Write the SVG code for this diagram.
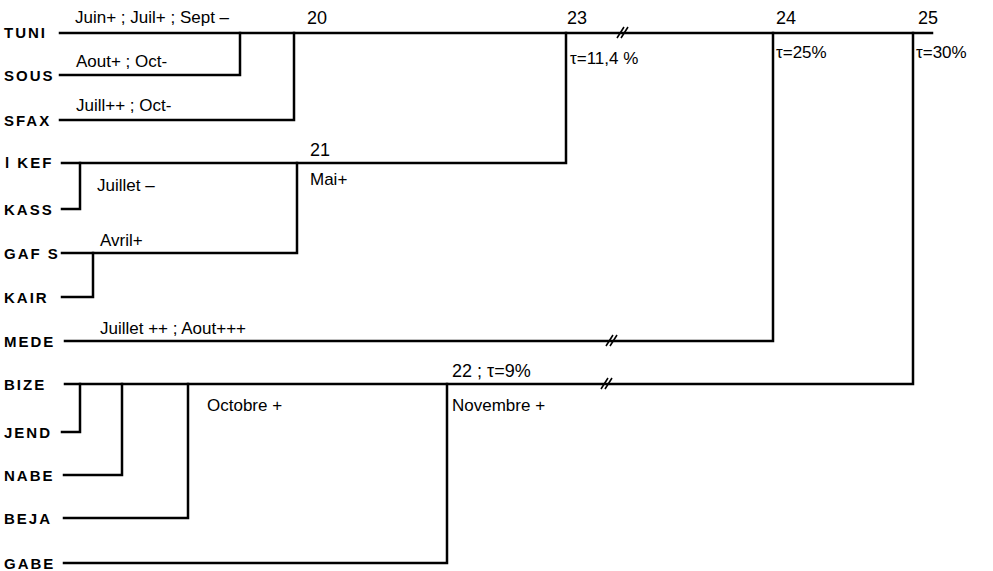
<svg xmlns="http://www.w3.org/2000/svg" width="993" height="571" viewBox="0 0 993 571">
<style>
.lbl{font-family:"Liberation Sans",Arial,sans-serif;font-weight:bold;font-size:15px;letter-spacing:2px;fill:#000}
.ann{font-family:"Liberation Sans",Arial,sans-serif;font-size:17px;fill:#000}
.num{font-family:"Liberation Sans",Arial,sans-serif;font-size:18px;fill:#000}
.ln{stroke:#000;stroke-width:2.5;fill:none;stroke-linecap:square}
.brk{stroke:#000;stroke-width:1.6;fill:none}
</style>
<rect width="993" height="571" fill="#fff"/>
<g id="connectors">
<path class="ln" d="M60 33H932"/>
<path class="ln" d="M60 75H240V33"/>
<path class="ln" d="M60 120H294V33"/>
<path class="ln" d="M62 163H566V33"/>
<path class="ln" d="M62 209H80V163"/>
<path class="ln" d="M62 253H297V163"/>
<path class="ln" d="M62 297H93V253"/>
<path class="ln" d="M65 341H773V33"/>
<path class="ln" d="M65 384H913V33"/>
<path class="ln" d="M62 432H80V384"/>
<path class="ln" d="M64 475H122V384"/>
<path class="ln" d="M64 518H188V384"/>
<path class="ln" d="M64 563H447V384"/>
<path class="brk" d="M617 38L624 27M621 38L628 27"/>
<path class="brk" d="M606 346L613 335M610 346L617 335"/>
<path class="brk" d="M601 389L608 378M605 389L612 378"/>
</g>
<g id="leaf-TUNI"><text class="lbl" x="4" y="38">TUNI</text></g>
<g id="leaf-SOUS"><text class="lbl" x="4" y="81">SOUS</text></g>
<g id="leaf-SFAX"><text class="lbl" x="4" y="126">SFAX</text></g>
<g id="leaf-KEF"><text class="lbl" x="5" y="168">l KEF</text></g>
<g id="leaf-KASS"><text class="lbl" x="4" y="215">KASS</text></g>
<g id="leaf-GAFS"><text class="lbl" x="4" y="259">GAF S</text></g>
<g id="leaf-KAIR"><text class="lbl" x="4" y="303">KAIR</text></g>
<g id="leaf-MEDE"><text class="lbl" x="4" y="347">MEDE</text></g>
<g id="leaf-BIZE"><text class="lbl" x="4" y="390">BIZE</text></g>
<g id="leaf-JEND"><text class="lbl" x="4" y="438">JEND</text></g>
<g id="leaf-NABE"><text class="lbl" x="4" y="481">NABE</text></g>
<g id="leaf-BEJA"><text class="lbl" x="4" y="524">BEJA</text></g>
<g id="leaf-GABE"><text class="lbl" x="4" y="569">GABE</text></g>
<g id="ann-TUNI"><text class="ann" x="75" y="23">Juin+ ; Juil+ ; Sept –</text></g>
<g id="ann-SOUS"><text class="ann" x="76" y="67">Aout+ ; Oct-</text></g>
<g id="ann-SFAX"><text class="ann" x="76" y="111">Juill++ ; Oct-</text></g>
<g id="node-20"><text class="num" x="307" y="24">20</text></g>
<g id="node-23"><text class="num" x="567" y="24">23</text><text class="ann" x="570" y="64">τ=11,4 %</text></g>
<g id="node-24"><text class="num" x="776" y="24">24</text><text class="ann" x="776" y="58">τ=25%</text></g>
<g id="node-25"><text class="num" x="918" y="24">25</text><text class="ann" x="916" y="58">τ=30%</text></g>
<g id="node-21"><text class="num" x="310" y="156">21</text><text class="ann" x="310" y="185">Mai+</text></g>
<g id="ann-KASS"><text class="ann" x="97" y="191">Juillet –</text></g>
<g id="ann-GAFS"><text class="ann" x="100" y="246">Avril+</text></g>
<g id="ann-MEDE"><text class="ann" x="100" y="334">Juillet ++ ; Aout+++</text></g>
<g id="node-22"><text class="num" x="452" y="377">22 ; τ=9%</text><text class="ann" x="452" y="411">Novembre +</text></g>
<g id="ann-BEJA"><text class="ann" x="207" y="411">Octobre +</text></g>
</svg>
